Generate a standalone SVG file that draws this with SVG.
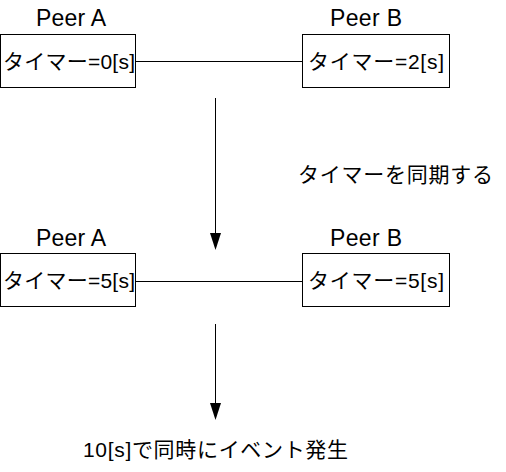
<svg xmlns="http://www.w3.org/2000/svg" width="506" height="472" viewBox="0 0 506 472">
<style>
text{font-family:"Liberation Sans","Noto Sans CJK JP",sans-serif;fill:#000}
.lbl{font-size:23px}
.t{font-size:21px}
.box{fill:#fff;stroke:#000;stroke-width:1}
.ln{stroke:#000;stroke-width:1;fill:none}
</style>
<rect width="506" height="472" fill="#fff"/>
<g id="connectors">
<line class="ln" x1="136" y1="61.5" x2="302" y2="61.5"/>
<line class="ln" x1="136" y1="281.5" x2="302" y2="281.5"/>
<line class="ln" x1="215.5" y1="98" x2="215.5" y2="233"/>
<path d="M210,233 L221,233 L215.5,250 Z" fill="#000"/>
<line class="ln" x1="215.5" y1="324" x2="215.5" y2="403"/>
<path d="M210,403 L221,403 L215.5,420 Z" fill="#000"/>
</g>
<g id="peerA1">
<text class="lbl" x="36" y="26" textLength="70">Peer A</text>
<rect class="box" x="0.5" y="34.5" width="135" height="53"/>
<text class="t" x="3" y="69" textLength="132">タイマー=0[s]</text>
</g>
<g id="peerB1">
<text class="lbl" x="330" y="26" textLength="72">Peer B</text>
<rect class="box" x="302.5" y="34.5" width="147" height="53"/>
<text class="t" x="308" y="69" textLength="136">タイマー=2[s]</text>
</g>
<g id="sync">
<text class="t" x="298" y="182" textLength="195">タイマーを同期する</text>
</g>
<g id="peerA2">
<text class="lbl" x="36" y="246" textLength="70">Peer A</text>
<rect class="box" x="0.5" y="253.5" width="135" height="53"/>
<text class="t" x="3" y="288" textLength="132">タイマー=5[s]</text>
</g>
<g id="peerB2">
<text class="lbl" x="330" y="246" textLength="72">Peer B</text>
<rect class="box" x="302.5" y="253.5" width="147" height="53"/>
<text class="t" x="308" y="288" textLength="136">タイマー=5[s]</text>
</g>
<g id="event">
<text class="t" x="83" y="457" textLength="265">10[s]で同時にイベント発生</text>
</g>
</svg>
